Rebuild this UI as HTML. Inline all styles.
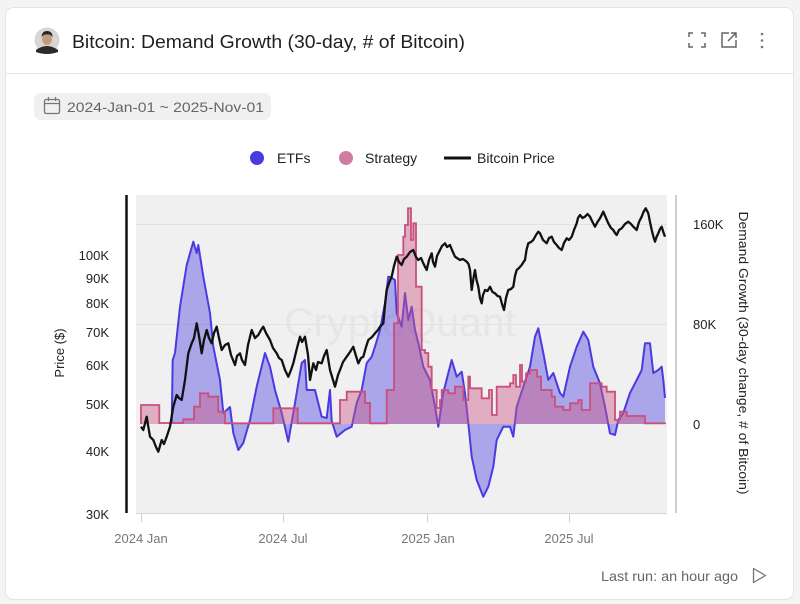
<!DOCTYPE html>
<html><head><meta charset="utf-8"><style>
html,body{margin:0;padding:0;background:#f4f4f4;}
svg{display:block;font-family:"Liberation Sans",Arial,sans-serif;}
</style></head><body>
<svg width="800" height="604" viewBox="0 0 800 604" xmlns="http://www.w3.org/2000/svg">
<rect x="0" y="0" width="800" height="604" fill="#f4f4f4"/>
<rect x="5.5" y="7.5" width="788" height="592" rx="8" fill="#ffffff" stroke="#e4e4e4"/>
<line x1="6" y1="73.5" x2="793" y2="73.5" stroke="#e6e6e6"/>
<!-- avatar -->
<circle cx="47" cy="40" r="12.5" fill="#d9d6d2"/>
<path d="M36 50 Q47 42 58 50 L58 52 Q47 56 36 52 Z" fill="#2a2a2e"/>
<ellipse cx="47" cy="39" rx="5" ry="6" fill="#c49a7c"/>
<path d="M41.5 37 Q42 31 47 31 Q52.5 31 52.5 37 Q50 34 47 34.5 Q44 34 41.5 37Z" fill="#2b2624"/>
<text x="72" y="48" font-size="18.5" fill="#1f1f1f" textLength="393" lengthAdjust="spacingAndGlyphs">Bitcoin: Demand Growth (30-day, # of Bitcoin)</text>
<!-- icons -->
<g stroke="#666" stroke-width="1.5" fill="none">
<path d="M689 37 V33 H693 M701 33 H705 V37 M705 43 V47 H701 M693 47 H689 V43"/>
<path d="M729 33 H722 V47 H736 V40 M731 33 H736 V38 M736 33 L728 41"/>
</g>
<g fill="#777"><circle cx="762" cy="34" r="1.3"/><circle cx="762" cy="40.5" r="1.3"/><circle cx="762" cy="47" r="1.3"/></g>
<!-- date pill -->
<rect x="34" y="93" width="237" height="27" rx="7" fill="#f0f0f0"/>
<g stroke="#777" stroke-width="1.3" fill="none">
<rect x="44.5" y="99.5" width="15" height="14" rx="1.5"/>
<line x1="44.5" y1="103.5" x2="59.5" y2="103.5"/>
<line x1="48.5" y1="97" x2="48.5" y2="101"/><line x1="55.5" y1="97" x2="55.5" y2="101"/>
</g>
<text x="67" y="112" font-size="14" fill="#666" textLength="197" lengthAdjust="spacingAndGlyphs">2024-Jan-01 ~ 2025-Nov-01</text>
<!-- legend -->
<circle cx="257" cy="158" r="7" fill="#4a3be0"/>
<text x="277" y="163" font-size="14" fill="#222">ETFs</text>
<circle cx="346" cy="158" r="7" fill="#d27ba2"/>
<text x="365" y="163" font-size="14" fill="#222">Strategy</text>
<line x1="444" y1="158" x2="471" y2="158" stroke="#111" stroke-width="3"/>
<text x="477" y="163" font-size="14" fill="#222">Bitcoin Price</text>
<!-- plot bg -->
<rect x="136" y="195" width="531" height="318" fill="#f0f0f0"/>
<line x1="136" y1="224.5" x2="667" y2="224.5" stroke="#e2e2e2"/>
<line x1="136" y1="324.5" x2="667" y2="324.5" stroke="#e2e2e2"/>
<line x1="136" y1="513.5" x2="667" y2="513.5" stroke="#d8d8d8"/>
<text x="400" y="336" font-size="40" fill="#e6e6e6" text-anchor="middle" textLength="232" lengthAdjust="spacingAndGlyphs">CryptoQuant</text>
<!-- ETFs -->
<path fill="rgba(85,75,225,0.45)" stroke="none" d="M171.7,424 L172.7,360 L175,353 L180,306.7 L186.7,265 L193.3,241.7 L196.7,253 L198.3,245 L203.3,276.7 L210,313 L213.3,346.7 L220,380 L223.3,413 L226.7,410 L230,407 L233.3,433 L238.3,450 L243.3,443 L250,420 L256.7,386.7 L265,353 L270,366.7 L275,390 L281.7,413 L288.3,441.7 L295,403 L301.7,363 L305,360 L306.7,390 L315,390 L321.7,416.7 L326.7,418 L330,390 L331.7,421 L336.7,436.7 L345,430 L351.7,426.7 L356.7,403 L361.7,390 L366.7,363 L371.7,356.7 L375,346.7 L380,330 L385,303 L388.3,276.7 L390,277 L395,280 L396.7,313 L401.7,326.7 L405,293 L408.3,320 L411.7,306.7 L415,330 L418.3,343 L423.3,366.7 L430,380 L435,406.7 L438.3,426.7 L443.3,393 L448.3,373 L451.7,360 L456.7,376.7 L461.7,371.7 L465,393 L468.3,423 L471.7,456.7 L476.7,480 L483.3,496.7 L488.3,486.7 L493.3,466.7 L496.7,440 L503.3,426.7 L510,426.7 L513.3,436.7 L516.7,406.7 L523.3,386.7 L530,366.7 L535,336.7 L538.3,328.3 L543.3,353 L548.3,380 L553.3,373 L560,393 L563.3,396.7 L570,366.7 L576.7,346.7 L583.3,331.7 L588.3,340 L593.3,366.7 L600,383.3 L605,406.7 L610,433.3 L615,435 L618.3,420 L623.3,413 L630,393 L636.7,380 L641.7,370 L645,343.3 L650,343.3 L653.3,373 L658.3,370 L661.7,366.7 L663.3,380 L665,398 L665,424 Z"/>
<path fill="none" stroke="#4a3be0" stroke-width="2" stroke-linejoin="round" d="M171.7,424 L172.7,360 L175,353 L180,306.7 L186.7,265 L193.3,241.7 L196.7,253 L198.3,245 L203.3,276.7 L210,313 L213.3,346.7 L220,380 L223.3,413 L226.7,410 L230,407 L233.3,433 L238.3,450 L243.3,443 L250,420 L256.7,386.7 L265,353 L270,366.7 L275,390 L281.7,413 L288.3,441.7 L295,403 L301.7,363 L305,360 L306.7,390 L315,390 L321.7,416.7 L326.7,418 L330,390 L331.7,421 L336.7,436.7 L345,430 L351.7,426.7 L356.7,403 L361.7,390 L366.7,363 L371.7,356.7 L375,346.7 L380,330 L385,303 L388.3,276.7 L390,277 L395,280 L396.7,313 L401.7,326.7 L405,293 L408.3,320 L411.7,306.7 L415,330 L418.3,343 L423.3,366.7 L430,380 L435,406.7 L438.3,426.7 L443.3,393 L448.3,373 L451.7,360 L456.7,376.7 L461.7,371.7 L465,393 L468.3,423 L471.7,456.7 L476.7,480 L483.3,496.7 L488.3,486.7 L493.3,466.7 L496.7,440 L503.3,426.7 L510,426.7 L513.3,436.7 L516.7,406.7 L523.3,386.7 L530,366.7 L535,336.7 L538.3,328.3 L543.3,353 L548.3,380 L553.3,373 L560,393 L563.3,396.7 L570,366.7 L576.7,346.7 L583.3,331.7 L588.3,340 L593.3,366.7 L600,383.3 L605,406.7 L610,433.3 L615,435 L618.3,420 L623.3,413 L630,393 L636.7,380 L641.7,370 L645,343.3 L650,343.3 L653.3,373 L658.3,370 L661.7,366.7 L663.3,380 L665,398"/>
<!-- Strategy -->
<path fill="rgba(205,90,135,0.45)" stroke="#c8507e" stroke-width="1.8" stroke-linejoin="miter" d="M141,424 L141,405 L159.3,405 L159.3,423 L183.3,423 L183.3,419.3 L194,419.3 L194,406.7 L200,406.7 L200,393.3 L208.3,393.3 L208.3,396.7 L218.3,396.7 L218.3,411.7 L225,411.7 L225,423.3 L273.3,423.3 L273.3,408.3 L297.7,408.3 L297.7,423.3 L340,423.3 L340,400 L346.7,400 L346.7,391.7 L365,391.7 L365,403 L370,403 L370,423.3 L386.7,423.3 L386.7,390 L394,390 L394,323.3 L398,323.3 L398,255 L403.3,255 L403.3,236.7 L405,236.7 L405,225 L408,225 L408,208.3 L411,208.3 L411,240 L413.3,240 L413.3,223.3 L416,223.3 L416,286.7 L421.7,286.7 L421.7,350 L425,350 L425,353 L428.3,353 L428.3,366.7 L431.7,366.7 L431.7,390 L436.7,390 L436.7,408 L440,408 L440,400 L441.7,400 L441.7,390 L448.3,390 L448.3,393.3 L455,393.3 L455,386.7 L463.3,386.7 L463.3,400 L468.3,400 L468.3,376.7 L470,376.7 L470,388.3 L481.7,388.3 L481.7,398.3 L489,398.3 L489,390 L492,390 L492,415 L496.7,415 L496.7,386.7 L510,386.7 L510,383.3 L513.3,383.3 L513.3,375 L516,375 L516,386.7 L520,386.7 L520,365 L522,365 L522,381.7 L526,381.7 L526,373.3 L530,373.3 L530,370 L537,370 L537,376.7 L541,376.7 L541,390 L551.7,390 L551.7,396.7 L555,396.7 L555,406.7 L563.3,406.7 L563.3,410 L570,410 L570,403.3 L578.3,403.3 L578.3,400 L581.7,400 L581.7,410 L590,410 L590,383.3 L601.7,383.3 L601.7,386.7 L606.7,386.7 L606.7,391.7 L615,391.7 L615,420 L620,420 L620,411.7 L626.7,411.7 L626.7,416 L645,416 L645,423.3 L665,423.3 L665,424"/>
<!-- Price -->
<polyline fill="none" stroke="#111" stroke-width="2.3" stroke-linejoin="round" points="141,426.7 143.3,430 146.7,416.7 148,425 150,436.7 153.3,440 156,447 158.3,451.7 161.7,440 164,444 166.7,436.7 170,426.7 173.3,406.7 176.7,395 179,398 181.7,400 185,380 188.3,353.3 191.7,343.3 194,338 196.7,323.3 199,336 201.7,353.3 204,340 206.7,330 209,338 211.7,343.3 214,333 216.7,326.7 219,338 221.7,350 225,345 228.3,343.3 231,355 235,365 237,356 240,353.3 242,360 245,365 248,345 251.7,330 255,338 258.3,335 261,330 263.3,326.7 266,333 270,340 273,348 276.7,353.3 279,358 281.7,360 285,370 288.3,376.7 291,370 293.3,363.3 297,348 300,336.7 302,342 305,336.7 308,355 310,380 313.3,363.3 316,370 318,362 321.7,363.3 324,356 326.7,350 330,370 333,380 335,386.7 338,375 340,370 343,362 346.7,356.7 350,352 353.3,346.7 356,356 358.3,363.3 361,358 363.3,356.7 366,347 368.3,340 372,337 375,333.3 378,330 380,326.7 383.3,323.3 385,305 386.7,290 389,283 391.7,276.7 394,266 396.7,256.7 399,262 401.7,265 404,259 406.7,256.7 410,252 413.3,250 416,257 418.3,260 421,258 423.3,263.3 426.7,270 429,260 431.7,253.3 433,262 435,266.7 437,256 440,250 442,246 445,243.3 447,247 450,245 452,250 455,256.7 457,258 460,260 463,259 466.7,261.7 468.5,264 470,270 471.7,290 473.5,278 475,270 476.5,280 478.3,286.7 480,298 481.7,303.3 483,295 485,290 487.5,291 490,286.7 492.5,292 495,293.3 497.5,296 500,296.7 502,304 504,310 506,298 508.3,290 511,289 513.3,286.7 515,276 516.7,270 519,268 521.7,265 523.5,262 525,260 526.5,250 528.3,243.3 531,242 533.3,240 536,235 538.3,231.7 540,233.3 543,240 546.7,243.3 549,238 551.7,236.7 554,242 556.7,245 559,248 561.7,250 564,243 566.7,238.3 569,240 571.7,236.7 574,230 576.7,223.3 578,218 580,215 582.5,218 585,216.7 587.5,214 590,216.7 592.5,222 595,226.7 597.5,222 600,218.3 603.3,211.7 606,218 608.3,223.3 611,228 613.3,230 615,233 616.7,235 619,230 621.7,228.3 625,224 628.3,221.7 631,224 633.3,226.7 636.7,230 639,222 641.7,216.7 643.5,212 645.7,208.3 648.3,213.3 650,222 651.7,230 653.5,237 655,241.7 656.5,237 658.3,233.3 660,229 661.7,226.7 663.3,232 665,236.7"/>
<!-- axes -->
<line x1="126.5" y1="195" x2="126.5" y2="513" stroke="#111" stroke-width="2.5"/>
<line x1="676" y1="195" x2="676" y2="513" stroke="#cfcfcf" stroke-width="2"/>
<g fill="#222" font-size="13" text-anchor="end">
<text x="109" y="260">100K</text>
<text x="109" y="283">90K</text>
<text x="109" y="308">80K</text>
<text x="109" y="337">70K</text>
<text x="109" y="370">60K</text>
<text x="109" y="409">50K</text>
<text x="109" y="456">40K</text>
<text x="109" y="519">30K</text>
</g>
<text transform="translate(64,353) rotate(-90)" font-size="13" fill="#222" text-anchor="middle">Price ($)</text>
<g fill="#222" font-size="13">
<text x="693" y="229">160K</text>
<text x="693" y="329">80K</text>
<text x="693" y="429">0</text>
</g>
<text transform="translate(739,353) rotate(90)" font-size="13" fill="#222" text-anchor="middle" textLength="283" lengthAdjust="spacingAndGlyphs">Demand Growth (30-day change, # of Bitcoin)</text>
<g stroke="#cfcfcf" stroke-width="1">
<line x1="141.5" y1="514" x2="141.5" y2="522"/>
<line x1="283.5" y1="514" x2="283.5" y2="522"/>
<line x1="427.5" y1="514" x2="427.5" y2="522"/>
<line x1="569.5" y1="514" x2="569.5" y2="522"/>
</g>
<g fill="#777" font-size="13" text-anchor="middle">
<text x="141" y="543">2024 Jan</text>
<text x="283" y="543">2024 Jul</text>
<text x="428" y="543">2025 Jan</text>
<text x="569" y="543">2025 Jul</text>
</g>
<text x="738" y="581" font-size="14" fill="#666" text-anchor="end" textLength="137" lengthAdjust="spacingAndGlyphs">Last run: an hour ago</text>
<path d="M753.5 568.5 L753.5 582.5 L765.5 575.5 Z" fill="none" stroke="#777" stroke-width="1.3" stroke-linejoin="round"/>
</svg>
</body></html>
